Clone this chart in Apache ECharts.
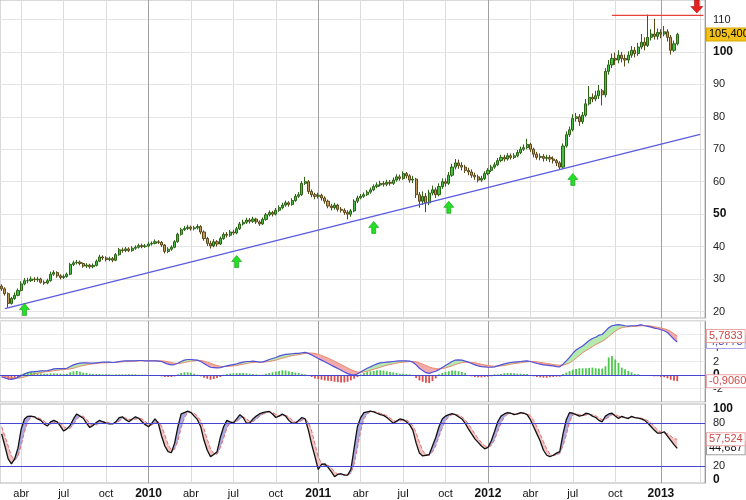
<!DOCTYPE html>
<html><head><meta charset="utf-8">
<script src="https://cdn.jsdelivr.net/npm/echarts@6/dist/echarts.min.js"></script>
<style>html,body{margin:0;padding:0;background:#fff}#c{width:746px;height:500px}</style>
</head><body><div id="c"></div>
<script>
// ---------- axis / category definitions ----------
const START_DATE = '2009-02-23';   // first weekly bar (Monday)
const WEEK_COUNT = 216;            // weeks shown on the axis (incl. empty future)
const QUARTER_NAMES = {3: 'abr', 6: 'jul', 9: 'oct'};
const PRICE_TICKS = [20, 30, 40, 50, 60, 70, 80, 90, 100, 110];
const PRICE_BOLD = [50, 100];
const MACD_TICKS = [-2, 0, 2, 4];
const STOCH_TICKS = [0, 20, 80, 100];
const STOCH_BOLD = [0, 100];
const STOCH_LEVELS = [20, 80];

// ---------- weekly prices ----------
const opens = [27.8,27,25.5,22.5,24,25,26.5,28.5,29.5,29.5,
30,29.8,30,29,28.8,29.5,31.5,32,31,30.5,
30.8,31.5,34.5,35,35.2,34.8,34,34.3,33.8,34.2,
35.5,36.8,36.5,36,36.3,35.8,37.5,39,38.8,39.3,
38.8,39.5,39.8,40.3,40,40.2,40.8,41,41.5,41.3,
40.5,38.5,39.2,39.8,41.5,43.8,45.2,45.6,46,45.5,
45.8,46.2,44.5,42.5,41,40.2,41.5,40.8,42.5,43.8,
43.5,44.5,44.2,45.5,47,47.5,48.2,47.8,48.5,47.6,
47,48.4,49.8,50.5,50,51.2,52,52.8,53.5,53,
54.2,55.5,56,59.5,60,57,56,55.5,55.8,55,
54,52.5,52,52.8,51.5,51.2,50.5,50,51,54,
55,55.5,56,56.8,57.5,58.5,59,59.5,59.2,59.8,
59.5,60.5,61.5,61,62.5,61.8,60.5,60.8,56,54,
55.5,53.5,56.5,57.5,56,58.5,60,59.5,62,64.5,
65.8,65,64.5,63.5,63,62,61.5,60.5,61,62.5,
63.5,64.5,65.2,66.5,67.5,67,68,67.5,68,69,
70,70.5,71.5,70,68.5,67.5,67.8,67.2,67.5,67,
66.5,65.8,64.5,71,74.5,76,79.5,80,78.5,80.5,
84,86,85.5,86.5,88,86.8,94,96,98,97.5,
99,98,97.5,99,100.5,99.5,101.5,103,102,104.5,
105.5,104.8,106,105.5,106.2,104.5,100.5,102.5];
const closes = [27,25.5,22.5,24,25,26.5,28.5,29.5,29.5,30,
29.8,30,29,28.8,29.5,31.5,32,31,30.5,30.8,
31.5,34.5,35,35.2,34.8,34,34.3,33.8,34.2,35.5,
36.8,36.5,36,36.3,35.8,37.5,39,38.8,39.3,38.8,
39.5,39.8,40.3,40,40.2,40.8,41,41.5,41.3,40.5,
38.5,39.2,39.8,41.5,43.8,45.2,45.6,46,45.5,45.8,
46.2,44.5,42.5,41,40.2,41.5,40.8,42.5,43.8,43.5,
44.5,44.2,45.5,47,47.5,48.2,47.8,48.5,47.6,47,
48.4,49.8,50.5,50,51.2,52,52.8,53.5,53,54.2,
55.5,56,59.5,60,57,56,55.5,55.8,55,54,
52.5,52,52.8,51.5,51.2,50.5,50,51,54,55,
55.5,56,56.8,57.5,58.5,59,59.5,59.2,59.8,59.5,
60.5,61.5,61,62.5,61.8,60.5,60.8,56,54,55.5,
53.5,56.5,57.5,56,58.5,60,59.5,62,64.5,65.8,
65,64.5,63.5,63,62,61.5,60.5,61,62.5,63.5,
64.5,65.2,66.5,67.5,67,68,67.5,68,69,70,
70.5,71.5,70,68.5,67.5,67.8,67.2,67.5,67,66.5,
65.8,64.5,71,74.5,76,79.5,80,78.5,80.5,84,
86,85.5,86.5,88,86.8,94,96,98,97.5,99,
98,97.5,99,100.5,99.5,101.5,103,102,104.5,105.5,
104.8,106,105.5,106.2,104.5,100.5,102.5,105.4];
const highs = [28.4,27.5,25.9,24.5,25.9,27.1,29.3,30.3,30.4,30.8,
30.6,30.7,30.4,29.6,30.1,32.3,32.7,32.4,31.5,31.4,
32,35,35.7,35.9,35.7,35.1,34.9,34.7,34.8,36,
37.5,37.3,37,36.9,36.8,38,39.6,39.7,39.9,39.8,
40.1,40.4,40.9,40.9,40.8,41.4,41.6,42.2,42,41.7,
40.8,39.8,40.4,42,44.3,45.8,46.3,46.7,46.5,46.4,
46.9,46.6,45,43,41.8,42.3,42,43.1,44.4,44.5,
45.1,45.2,46.1,47.6,48.3,48.9,48.8,49.2,48.9,48.1,
49,50.4,51.2,51,51.9,52.7,53.5,54.2,54,54.9,
56.2,56.8,60.2,61.5,60.5,57.6,56.6,56.6,56.3,55.5,
54.5,53.2,53.5,53.2,52.2,51.8,51.2,51.6,54.6,55.7,
56.2,56.7,57.4,58.2,59.2,59.8,60.3,60.2,60.6,60.5,
61.3,62.3,62.2,63.2,63,62.3,61.8,61.2,56.8,57,
56.5,57.5,58.8,58.2,59.5,61,61,63,65.5,67,
66.8,66,65.2,64.3,63.8,62.8,62.2,61.8,63.2,64.2,
65.2,66,67.3,68.3,68.3,68.8,68.7,68.8,69.8,70.8,
71.5,73.2,72,70.5,69.2,68.7,68.5,68.3,68.2,67.8,
67,66.3,71.8,75.5,77,80.8,81.2,80.8,81.5,85.5,
89.5,87.2,88,89.8,88.6,95,97.5,99.5,99.8,100.5,
100,99.2,100.2,101.8,101.5,102.8,105.5,104.5,111.5,107,
110.2,107.2,107,108,107,105.2,103.5,105.9];
const lows = [26.4,24.9,21.2,22.1,23.6,24.7,26.2,28.1,28.7,29.1,
29.1,29.2,28.6,28.2,28.4,29.2,31,30.4,29.9,30,
30.4,31.2,34,34.5,34.2,33.5,33.4,33.2,33.3,33.9,
35.2,35.9,35.4,35.5,35.2,35.5,37.2,38.1,38.3,38.3,
38.4,39,39.4,39.5,39.6,39.8,40.3,40.7,40.8,39.9,
37.9,38,38.7,39.5,41.2,43.4,44.8,45.1,44.9,45,
45.3,43.8,41.8,40.2,39.4,39.8,40,40.5,42.1,42.8,
43,43.6,43.8,45.1,46.5,47,47.1,47.3,47,46.4,
46.6,48,49.3,49.3,49.6,50.7,51.5,52.3,52.3,52.6,
53.8,55,55.6,59,56.2,55.2,54.6,54.8,54.2,53.2,
51.8,51.2,51.4,50.8,50.5,49.8,48.4,49.2,50.6,53.4,
54.6,55,55.6,56.3,57.1,58,58.5,58.5,58.6,58.8,
59,60,60.3,60.6,61,59.7,59.6,55,52,52.8,
50.6,52.8,55.8,55,55.5,57.8,58.5,59,61.5,63.8,
64,63.5,62.7,62,61.2,60.6,59.8,59.9,60.5,62,
63,64,64.8,66,66.2,66.5,66.8,67,67.5,68.5,
69.5,70,69.2,67.5,66.8,66.6,66.2,66.4,66,65.6,
64.8,63.8,64,70.5,73.8,75.5,78.5,77.2,77.8,80,
83.5,84.5,84.8,85.5,83.5,86,93,95,96,96.5,
96.8,95.5,96.5,98.2,98.3,98.8,100.8,100.5,101.5,103.5,
103.8,103.8,104.2,104.8,103.2,99.2,100,102];

// ---------- MACD panel ----------
const macdLine = [-0.3,-0.45,-0.6,-0.65,-0.55,-0.35,-0.1,0.15,0.35,0.45,
0.5,0.55,0.6,0.6,0.65,0.75,0.9,0.95,0.95,0.95,
1.0,1.25,1.5,1.65,1.75,1.8,1.8,1.75,1.75,1.8,
1.85,1.9,1.9,1.9,1.85,1.9,2.0,2.05,2.1,2.1,
2.1,2.1,2.15,2.15,2.1,2.1,2.1,2.1,2.05,2.0,
1.8,1.6,1.5,1.55,1.75,2.0,2.2,2.3,2.3,2.25,
2.2,2.0,1.7,1.4,1.15,1.1,1.05,1.1,1.25,1.35,
1.45,1.55,1.65,1.8,1.9,2.0,2.0,2.05,2.0,1.9,
1.95,2.1,2.3,2.45,2.6,2.8,2.95,3.05,3.1,3.15,
3.2,3.2,3.3,3.35,3.2,2.95,2.7,2.45,2.2,1.95,
1.7,1.45,1.2,0.95,0.7,0.45,0.2,0.05,0.0,0.15,
0.45,0.75,1.0,1.2,1.45,1.65,1.8,1.85,1.9,1.95,
2.0,2.05,2.1,2.1,2.1,2.05,1.9,1.5,1.0,0.65,
0.35,0.25,0.4,0.55,0.8,1.1,1.4,1.7,2.0,2.2,
2.25,2.2,2.05,1.9,1.7,1.5,1.35,1.25,1.2,1.15,
1.15,1.2,1.35,1.5,1.65,1.75,1.85,1.9,1.95,2.0,
2.05,2.1,2.0,1.85,1.7,1.6,1.5,1.45,1.4,1.35,
1.25,1.2,1.6,2.1,2.6,3.2,3.7,4.0,4.3,4.7,
5.1,5.4,5.6,5.9,6.0,6.5,7.0,7.3,7.4,7.45,
7.4,7.3,7.25,7.3,7.3,7.35,7.45,7.3,7.2,7.1,
6.95,6.85,6.7,6.55,6.3,5.8,5.3,4.87];
const signalLine = [-0.1,-0.2,-0.3,-0.4,-0.45,-0.45,-0.4,-0.3,-0.15,0.0,
0.15,0.25,0.35,0.45,0.5,0.55,0.65,0.7,0.75,0.8,
0.85,0.9,1.0,1.15,1.3,1.4,1.5,1.6,1.65,1.7,
1.75,1.8,1.8,1.85,1.85,1.85,1.9,1.95,2.0,2.0,
2.05,2.05,2.1,2.1,2.1,2.1,2.1,2.1,2.1,2.1,
2.05,1.95,1.85,1.75,1.7,1.75,1.85,1.95,2.05,2.1,
2.15,2.15,2.05,1.9,1.75,1.55,1.4,1.3,1.25,1.25,
1.3,1.35,1.4,1.5,1.6,1.7,1.8,1.85,1.9,1.9,
1.9,1.95,2.0,2.1,2.2,2.35,2.5,2.6,2.75,2.85,
2.95,3.0,3.1,3.2,3.25,3.25,3.2,3.05,2.9,2.7,
2.5,2.3,2.05,1.8,1.55,1.3,1.05,0.8,0.6,0.45,
0.4,0.45,0.55,0.7,0.85,1.0,1.15,1.3,1.45,1.55,
1.65,1.75,1.85,1.9,1.95,2.0,2.0,1.95,1.8,1.6,
1.4,1.2,1.05,0.95,0.9,0.95,1.05,1.2,1.35,1.55,
1.7,1.85,1.9,1.9,1.85,1.8,1.7,1.6,1.5,1.4,
1.35,1.3,1.3,1.35,1.4,1.5,1.6,1.7,1.75,1.8,
1.9,1.95,2.0,2.0,1.95,1.85,1.8,1.7,1.65,1.55,
1.5,1.45,1.45,1.6,1.8,2.1,2.5,2.9,3.3,3.6,
3.9,4.2,4.5,4.75,5.0,5.3,5.7,6.1,6.5,6.8,
7.0,7.1,7.15,7.2,7.2,7.25,7.3,7.3,7.3,7.25,
7.15,7.05,6.95,6.85,6.7,6.45,6.1,5.78];
const macdHist = [-0.2,-0.4,-0.6,-0.6,-0.5,-0.3,0.1,0.3,0.4,0.4,
0.35,0.3,0.25,0.2,0.2,0.25,0.25,0.2,0.2,0.15,
0.2,0.4,0.55,0.6,0.5,0.35,0.3,0.2,0.15,0.15,
0.15,0.1,0.1,0.1,0.05,0.1,0.1,0.1,0.1,0.1,
0.1,0.1,0.05,0.05,0.05,0,0,-0.05,-0.1,-0.2,
-0.3,-0.3,-0.3,-0.2,0.1,0.3,0.4,0.4,0.35,0.2,
0.05,-0.2,-0.4,-0.55,-0.7,-0.6,-0.45,-0.3,0.05,0.15,
0.2,0.25,0.3,0.3,0.3,0.25,0.2,0.15,0.1,0.05,
0.05,0.2,0.3,0.4,0.5,0.6,0.7,0.65,0.55,0.45,
0.35,0.3,0.2,0.1,-0.1,-0.3,-0.5,-0.6,-0.7,-0.8,
-0.85,-0.9,-1.0,-1.05,-1.1,-1.1,-1.0,-0.8,-0.55,-0.3,
0.1,0.3,0.45,0.55,0.6,0.7,0.7,0.65,0.55,0.45,
0.4,0.3,0.2,0.2,0.15,0.1,0,-0.45,-0.8,-1.0,
-1.15,-1.2,-0.9,-0.5,0.1,0.3,0.45,0.55,0.65,0.65,
0.55,0.45,0.3,-0.1,-0.2,-0.3,-0.35,-0.35,-0.3,-0.25,
-0.2,0.1,0.1,0.15,0.25,0.3,0.3,0.25,0.2,0.2,
0.15,0.15,-0.05,-0.2,-0.3,-0.35,-0.4,-0.4,-0.35,-0.3,
-0.25,-0.25,0.15,0.35,0.6,0.8,0.9,1.0,1.0,1.0,
1.05,1.1,1.0,0.95,0.95,1.3,2.6,2.8,2.3,1.8,
1.1,0.85,0.6,0.4,0.15,0.1,-0.05,-0.1,-0.1,-0.15,
-0.2,-0.2,-0.3,-0.35,-0.5,-0.7,-0.85,-0.906];

// ---------- Stochastic panel ----------
const stochK = [65,48,30,23,30,45,72,86,89.7,90,
89,86,84,79,76,82,84,82,76,69,
72,77,86,93,90,87,80,74,77,81,
84,82,80,79,79,82,88,89,85,82,
86,89,87,82,78,75,80,86,80,62,
48,40,38.5,52,75,93,95,97,95,90,
85,75,56,42,33,36,40,60,75,84,
82,80,86,92,88,80,80,86,90,93,
95,96,96.6,93,88,90,93,90,84,80,
80,84,88,86,70,50,33,15,22,23,
18,12,5,8,9,7,7,15,45,75,
88,95,96,97,96,94,92,91,88,84,
80,83,86,85,82,78,70,52,38,34,
35,36,48,60,75,86,90,92,93.5,92,
89,86,80,72,65,58,53,48,44,46,
55,68,82,90,93,95,94,92,93,95,
94,92,85,75,65,55,42,35,33,35,
38,40,65,85,95,94,92,90,91,94,
93,90,88,84,82,90,93,94,90,86.5,
89.7,88,86.5,89.7,88,87,86,84,80,75,
70,66,66,68,62,56,50,44.687];
const stochD = [75,62,48,34,28,33,49,68,82,88.5,
89.5,88,86,83,79.5,79,80.5,82.5,80.5,75.5,
72.5,73,78,85.5,89.5,90,85.5,80,77,77.5,
80.5,82.5,82,80.5,79.5,80,83,86.5,87.5,85.5,
84.5,85.5,87.5,86,82.5,78.5,77.5,80.5,82,76,
63.5,50,42,43.5,55,73.5,87.5,95,95.5,94,
90,83.5,72,57.5,44,37,36.5,45.5,58.5,73,
80.5,82,82.5,86,88.5,86.5,82.5,82,85.5,89.5,
92.5,94.5,96,95,92.5,90.5,90.5,91,89,84.5,
81.5,81.5,84,86,81.5,69,51,32.5,23.5,20,
21,17.5,11.5,8.5,7.5,8,7.5,9.5,22.5,45,
69,86,93,96,96.5,95.5,94,92.5,90.5,87.5,
84,82,83,84.5,84.5,81.5,76.5,66.5,53.5,41.5,
35.5,35,39.5,48,61,73.5,83.5,89,92,92.5,
91.5,89,85,79,72,65,58.5,53,48.5,46,
48.5,56.5,68.5,80,88.5,92.5,94,93.5,93,93.5,
94,93.5,90.5,84,75,65,54,44,36.5,34.5,
35.5,37.5,48,63.5,82,91.5,93.5,92,91,91.5,
92.5,92,90.5,87.5,85,85.5,88.5,92,92.5,90,
88.5,88,88,88,88,88,87,86,83.5,80,
75,70.5,67.5,66.5,65.5,62,58,57.524];

// ---------- annotations (week index, value) ----------
const trendLine = [[1, 20.9], [214, 74.6]];
const resistanceLine = [[187, 111.25], [215, 111.25]];
const buyArrows = [[7, 20.6], [72, 35.4], [114, 45.9], [137, 52.1], [175, 60.7]];
const sellArrow = [213, 114];
const priceTags = [[105.4, '105,400', '#000000', '#f2c21b', '#d8a800']];
const macdTags = [[4.8773, '4,8773', '#4848c8', '#ffffff', '#a8a8e8'], [5.7833, '5,7833', '#d04848', '#ffffff', '#e8a8a8'], [-0.906, '-0,9060', '#d04848', '#ffffff', '#e8a8a8']];
const stochTags = [[44.687, '44,687', '#111111', '#ffffff', '#a0a0a0'], [57.524, '57,524', '#d04848', '#ffffff', '#e8a8a8']];

// ---------- build ----------
const FONT = 'Liberation Sans, Arial, sans-serif';
const cats = [];
const t0 = Date.parse(START_DATE);
for (let i = 0; i < WEEK_COUNT; i++) cats.push(new Date(t0 + i * 7 * 86400000).toISOString().slice(0, 10));
const mon = i => +cats[i].slice(5, 7) - 1;
const isQStart = i => i > 0 && mon(i) !== mon(i - 1) && mon(i) % 3 === 0;
const yearCats = cats.filter((c, i) => isQStart(i) && mon(i) === 0);

const candleData = closes.map((c, i) => [opens[i], c, lows[i], highs[i]]);

const GRIDS = [
  {left: 0, right: 41, top: 0, height: 318},
  {left: 0, right: 41, top: 321, height: 81},
  {left: 0, right: 41, top: 404, height: 79.5}
].map(g => Object.assign({show: true, borderColor: '#b4b4b4', borderWidth: 1, backgroundColor: 'transparent'}, g));

const xAxes = [0, 1, 2].map(g => ({
  type: 'category', gridIndex: g, data: cats, boundaryGap: true,
  axisLine: {show: false, onZero: false}, axisTick: {show: false},
  axisLabel: g === 2 ? {
    show: true, interval: (i) => isQStart(i) && i < 210,
    formatter: (v) => { const m = +v.slice(5, 7) - 1; return m === 0 ? '{y|' + v.slice(0, 4) + '}' : QUARTER_NAMES[m]; },
    color: '#111', fontSize: 11, fontFamily: FONT, margin: 5,
    rich: {y: {fontWeight: 'bold', fontSize: 12, fontFamily: FONT, color: '#111'}}
  } : {show: false},
  splitLine: {show: true, interval: (i) => isQStart(i), alignWithLabel: true, lineStyle: {color: '#dcdcdc', width: 1}}
}));

function yLabel(ticks, bold) {
  return {
    margin: 8, fontSize: 11, color: '#222', fontFamily: FONT,
    formatter: v => ticks.indexOf(v) >= 0 ? (bold.indexOf(v) >= 0 ? '{b|' + v + '}' : String(v)) : '',
    rich: {b: {fontWeight: 'bold', fontSize: 12, color: '#111', fontFamily: FONT}}
  };
}
const yAxes = [
  {gridIndex: 0, type: 'value', position: 'right', min: 18, max: 116, interval: 2,
   axisLine: {show: true, lineStyle: {color: '#9a9a9a'}}, axisTick: {show: false}, splitLine: {show: false},
   axisLabel: yLabel(PRICE_TICKS, PRICE_BOLD)},
  {gridIndex: 1, type: 'value', position: 'right', min: -4, max: 8, interval: 2,
   axisLine: {show: true, lineStyle: {color: '#9a9a9a'}}, axisTick: {show: false},
   splitLine: {show: true, lineStyle: {color: '#ececec'}},
   axisLabel: yLabel(MACD_TICKS, [0])},
  {gridIndex: 2, type: 'value', position: 'right', min: -4, max: 107, interval: 1,
   axisLine: {show: true, lineStyle: {color: '#9a9a9a'}}, axisTick: {show: false}, splitLine: {show: false},
   axisLabel: yLabel(STOCH_TICKS, STOCH_BOLD)}
];

// helper series carrying one markLine with a single style
function lines(g, data, color, width, z) {
  return {type: 'line', xAxisIndex: g, yAxisIndex: g, data: [], silent: true, z: 3, color: color,
    markLine: {z: z, silent: true, symbol: ['none', 'none'], animation: false,
      label: {show: false}, lineStyle: {color: color, width: width, type: 'solid', opacity: 1},
      itemStyle: {color: color}, data: data}};
}
function tags(g, list) {
  return list.map(t => ({type: 'line', xAxisIndex: g, yAxisIndex: g, data: [], silent: true,
    markLine: {z: 8, silent: true, symbol: ['none', 'none'], animation: false,
      lineStyle: {color: 'rgba(0,0,0,0)', width: 0},
      label: {show: true, position: 'end', distance: 2, formatter: t[1], color: t[2],
        backgroundColor: t[3], borderColor: t[4], borderWidth: 1, padding: [1, 2, 0, 2],
        fontSize: 11, fontFamily: FONT},
      data: [{yAxis: t[0]}]}}));
}
// straight segment drawn as a line series between two (week, value) points
function segment(g, pts, color, width) {
  const d = cats.map(() => null);
  d[pts[0][0]] = pts[0][1];
  d[pts[1][0]] = pts[1][1];
  return {type: 'line', xAxisIndex: g, yAxisIndex: g, data: d, connectNulls: true, symbol: 'none',
    silent: true, z: 4, lineStyle: {color: color, width: width}, itemStyle: {color: color}};
}
function fill(g, stack, data, color) {
  return {type: 'line', xAxisIndex: g, yAxisIndex: g, stack: stack, stackStrategy: 'all', data: data,
    symbol: 'none', silent: true, lineStyle: {width: 0, color: 'rgba(0,0,0,0)'},
    areaStyle: color ? {color: color, opacity: 1} : undefined, z: 2};
}
const yearData = () => yearCats.map(c => ({xAxis: c}));

const macdBase = macdLine.map((v, i) => Math.min(v, signalLine[i]));
const macdAbove = macdLine.map((v, i) => Math.max(v - signalLine[i], 0));
const macdBelow = macdLine.map((v, i) => Math.max(signalLine[i] - v, 0));
const stBase = stochK.map((v, i) => Math.min(v, stochD[i]));
const stAbove = stochK.map((v, i) => Math.max(v - stochD[i], 0));
const stBelow = stochK.map((v, i) => Math.max(stochD[i] - v, 0));

const UP_ARROW = 'path://M5,0L10,5.5L7,5.5L7,11L3,11L3,5.5L0,5.5Z';
const DOWN_ARROW = 'path://M3,0L7,0L7,5.5L10,5.5L5,11L0,5.5L3,5.5Z';

const series = [
  lines(0, PRICE_TICKS.map(v => ({yAxis: v})), '#e4e4e4', 1, 1),
  lines(0, yearData(), '#a0a0a0', 1, 1),
  lines(1, yearData(), '#a0a0a0', 1, 1),
  lines(2, yearData(), '#a0a0a0', 1, 1),
  {
    type: 'candlestick', xAxisIndex: 0, yAxisIndex: 0, data: candleData, barWidth: '80%',
    itemStyle: {color: '#48c048', color0: '#c29a5a', borderColor: '#2b6414', borderColor0: '#5a4818', borderWidth: 1},
    markPoint: {
      silent: true, label: {show: false}, animation: false,
      data: buyArrows.map(a => ({coord: [cats[a[0]], a[1]], symbol: UP_ARROW, symbolSize: [10, 12],
        itemStyle: {color: '#22e022', borderColor: '#139613', borderWidth: 0.6}}))
        .concat([{coord: [cats[sellArrow[0]], sellArrow[1]], symbol: DOWN_ARROW, symbolSize: [12, 13],
          itemStyle: {color: '#e82020', borderColor: '#a01010', borderWidth: 0.6}}])
    }
  },
  segment(0, trendLine, '#5a5ae0', 1.2),
  segment(0, resistanceLine, '#e8403a', 1.2),
  fill(1, 'mf', macdBase, null),
  fill(1, 'mf', macdAbove, '#b4eab0'),
  fill(1, 'mf', macdBelow, '#f2aaaa'),
  {type: 'bar', xAxisIndex: 1, yAxisIndex: 1, barWidth: '55%', silent: true,
   data: macdHist.map(v => ({value: v, itemStyle: {color: v >= 0 ? '#4cc84c' : '#dc4c4c'}}))},
  {type: 'line', xAxisIndex: 1, yAxisIndex: 1, data: signalLine, symbol: 'none', silent: true,
   lineStyle: {color: '#e88a6a', width: 1}},
  {type: 'line', xAxisIndex: 1, yAxisIndex: 1, data: macdLine, symbol: 'none', silent: true,
   lineStyle: {color: '#5050d8', width: 1.2}},
  lines(1, [{yAxis: 0}], '#4646d0', 1.2, 7),
  fill(2, 'sf', stBase, null),
  fill(2, 'sf', stAbove, '#aaaae4'),
  fill(2, 'sf', stBelow, '#f4c4c4'),
  {type: 'line', xAxisIndex: 2, yAxisIndex: 2, data: stochD, symbol: 'none', silent: true,
   lineStyle: {color: '#e07070', width: 1, type: 'dashed'}},
  {type: 'line', xAxisIndex: 2, yAxisIndex: 2, data: stochK, symbol: 'none', silent: true,
   lineStyle: {color: '#111111', width: 1.3}}
].concat(
  STOCH_LEVELS.map(v => lines(2, [{yAxis: v}], '#4646d0', 1.2, 7)),
  tags(0, priceTags), tags(1, macdTags), tags(2, stochTags));

const option = {
  animation: false,
  backgroundColor: '#ffffff',
  grid: GRIDS,
  xAxis: xAxes,
  yAxis: yAxes,
  series: series
};
const chart = echarts.init(document.getElementById('c'), null, {renderer: 'canvas'});
chart.setOption(option);
</script>
</body></html>
